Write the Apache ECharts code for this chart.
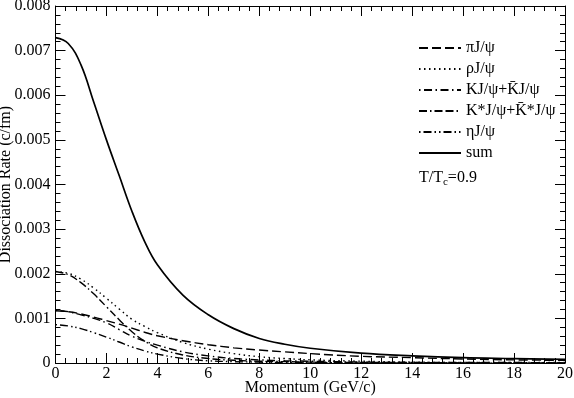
<!DOCTYPE html>
<html>
<head>
<meta charset="utf-8">
<script src="https://cdn.jsdelivr.net/npm/echarts@6/dist/echarts.min.js"></script>
<style>
  html, body { margin: 0; padding: 0; background: #fff; }
  #chart { width: 574px; height: 398px; }
</style>
</head>
<body>
<div id="chart"></div>
<script>
// momentum grid (GeV/c)
const momentum = [0, 0.5, 1, 1.5, 2, 2.5, 3, 3.5, 4, 5, 6, 7, 8, 9, 10, 12, 14, 16, 18, 20]

// dissociation rates (c/fm)
const piRate   = [0.00117, 0.00115, 0.00110, 0.00103, 0.00095, 0.00087, 0.00078, 0.00069, 0.00061, 0.00050, 0.00041, 0.00034, 0.00029, 0.00025, 0.00021, 0.00015, 0.00012, 0.00009, 0.00007, 0.00006]
const rhoRate  = [0.00205, 0.00201, 0.00188, 0.00168, 0.00145, 0.00121, 0.00098, 0.00082, 0.00068, 0.00046, 0.00031, 0.00021, 0.00014, 0.00010, 0.00007, 0.00004, 0.00002, 0.00001, 0.00001, 0.00001]
const kRate    = [0.00118, 0.00115, 0.00108, 0.00100, 0.00090, 0.00075, 0.00060, 0.00049, 0.00040, 0.00025, 0.00016, 0.00010, 0.00007, 0.00005, 0.00004, 0.00002, 0.00001, 0.00001, 0.00001, 0.00000]
const kStarRate = [0.00205, 0.00198, 0.00180, 0.00155, 0.00126, 0.00097, 0.00070, 0.00049, 0.00034, 0.00018, 0.00010, 0.00006, 0.00004, 0.00003, 0.00002, 0.00001, 0.00001, 0.00000, 0.00000, 0.00000]
const etaRate  = [0.00086, 0.00083, 0.00077, 0.00068, 0.00058, 0.00047, 0.00036, 0.00027, 0.00020, 0.00010, 0.00005, 0.00003, 0.00002, 0.00001, 0.00001, 0.00000, 0.00000, 0.00000, 0.00000, 0.00000]
const sumRate  = [0.00729, 0.00716, 0.00668, 0.00585, 0.00500, 0.00420, 0.00340, 0.00272, 0.00220, 0.00152, 0.00108, 0.00077, 0.00055, 0.00042, 0.00033, 0.00022, 0.00016, 0.00012, 0.00010, 0.00008]

const seriesNames = ['πJ/ψ', 'ρJ/ψ', 'KJ/ψ+K̄J/ψ', 'K*J/ψ+K̄*J/ψ', 'ηJ/ψ', 'sum']
const xTicks = [0, 2, 4, 6, 8, 10, 12, 14, 16, 18, 20]
const yTicks = ['0', '0.001', '0.002', '0.003', '0.004', '0.005', '0.006', '0.007', '0.008']

const font = 'Liberation Serif'
const fs = 16
const chart = echarts.init(document.getElementById('chart'))

const pair = arr => momentum.map((x, i) => [x, arr[i]])
const line = (name, arr, dash, width) => ({
  name,
  type: 'line',
  data: pair(arr),
  showSymbol: false,
  symbol: 'none',
  smooth: 0.4,
  lineStyle: { color: '#000', width: width || 1.4, type: dash },
  itemStyle: { color: '#000' },
  animation: false
})

// frame axes: ticks point into the plot, no zero-snapping
const tickAxis = () => ({
  axisLine: { onZero: false, lineStyle: { color: '#000', width: 1 } },
  splitLine: { show: false },
  axisTick: { inside: true, length: 10, lineStyle: { color: '#000' } },
  minorTick: { show: true, splitNumber: 5, length: 5, lineStyle: { color: '#000' } }
})

chart.setOption({
  animation: false,
  textStyle: { fontFamily: font },
  grid: { left: 55.5, right: 9, top: 6, bottom: 35, containLabel: false, outerBoundsMode: 'none' },
  legend: {
    orient: 'vertical',
    left: 413,
    top: 35,
    itemWidth: 42,
    itemHeight: 14,
    itemGap: 5,
    itemStyle: { opacity: 0 },
    textStyle: { fontFamily: font, fontSize: fs, color: '#000' },
    data: seriesNames
  },
  title: {
    text: 'T/T{sub|c}=0.9',
    left: 414,
    top: 162,
    textStyle: {
      fontFamily: font, fontSize: fs, fontWeight: 'normal', color: '#000',
      rich: { sub: { fontFamily: font, fontSize: 11, verticalAlign: 'bottom', padding: [10, 0, 0, 0], color: '#000' } }
    }
  },
  xAxis: [
    {
      ...tickAxis(),
      type: 'value', min: 0, max: 20, interval: 2, position: 'bottom',
      name: 'Momentum (GeV/c)', nameLocation: 'middle', nameGap: 17, nameMoveOverlap: false,
      nameTextStyle: { fontFamily: font, fontSize: fs, color: '#000' },
      axisLabel: { fontFamily: font, fontSize: fs, color: '#000', margin: 3,
        formatter: v => xTicks.includes(v) ? String(v) : '' }
    },
    {
      ...tickAxis(),
      type: 'value', min: 0, max: 20, interval: 2, position: 'top',
      axisLabel: { show: false }
    }
  ],
  yAxis: [
    {
      ...tickAxis(),
      type: 'value', min: 0, max: 0.008, interval: 0.001, position: 'left',
      name: 'Dissociation Rate (c/fm)', nameLocation: 'middle', nameGap: 42, nameMoveOverlap: false,
      nameTextStyle: { fontFamily: font, fontSize: fs, color: '#000' },
      axisLabel: { fontFamily: font, fontSize: fs, color: '#000', margin: 5,
        formatter: v => yTicks[Math.round(v / 0.001)] }
    },
    {
      ...tickAxis(),
      type: 'value', min: 0, max: 0.008, interval: 0.001, position: 'right',
      axisLabel: { show: false }
    }
  ],
  series: [
    line(seriesNames[0], piRate, [9, 4]),
    line(seriesNames[1], rhoRate, [1.5, 3.5]),
    line(seriesNames[2], kRate, [1.5, 3.5, 8, 3.5]),
    line(seriesNames[3], kStarRate, [8, 3, 1.5, 3, 8, 3]),
    line(seriesNames[4], etaRate, [1.5, 3, 8, 3, 1.5, 3]),
    line(seriesNames[5], sumRate, 'solid', 1.7)
  ]
})

window.addEventListener('resize', () => chart.resize())
</script>
</body>
</html>
